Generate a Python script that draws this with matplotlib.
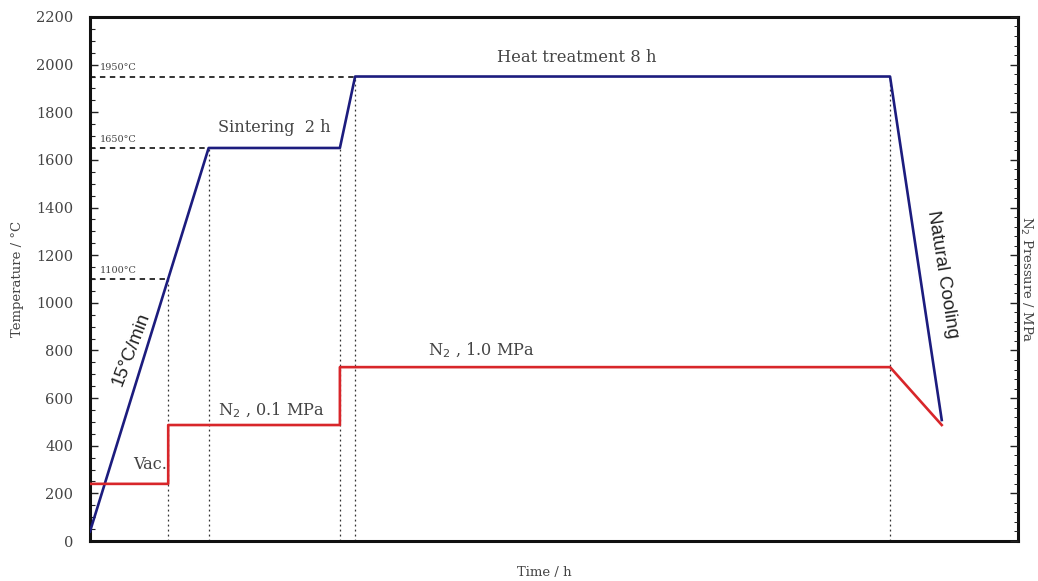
import numpy as np
import matplotlib.pyplot as plt
from matplotlib.ticker import MultipleLocator

# temperature schedule (time in h, temperature in deg C)
temp_time = [0.0, 1.79, 3.77, 4.0, 12.07, 12.85]
temp_value = [40, 1650, 1650, 1950, 1950, 508]

# N2 pressure schedule (right axis, drawn on its own scale)
pres_time = [0.0, 1.18, 1.18, 3.77, 3.77, 12.07, 12.85]
pres_value = [0.24, 0.24, 0.487, 0.487, 0.73, 0.73, 0.487]

# guide lines: level marks and phase boundaries
level_temps = [1950, 1650, 1100]
level_ends = [4.0, 1.79, 1.18]
level_labels = ['1950°C', '1650°C', '1100°C']
phase_times = [1.18, 1.79, 3.77, 4.0, 12.07]
phase_tops = [1100, 1650, 1650, 1950, 1950]

SERIF = ['DejaVu Serif']
SANS = ['Liberation Sans', 'DejaVu Sans']
BLUE = '#1c1c7e'
RED = '#d8262a'
GREY = '#444444'

fig = plt.figure(figsize=(10.38, 5.81), dpi=100)
ax = fig.add_axes([0.0867, 0.0688, 0.894, 0.902])

ax.plot(temp_time, temp_value, color=BLUE, lw=1.9, zorder=3)

for t, end in zip(level_temps, level_ends):
    ax.plot([0, end], [t, t], color='#222222', lw=1.3, ls=(0, (3, 2.5)), zorder=2)
for x, top in zip(phase_times, phase_tops):
    ax.plot([x, x], [0, top], color='#333333', lw=0.9, ls=(0, (1.5, 2.5)), zorder=2)

for t, lab in zip(level_temps, level_labels):
    ax.text(0.15, t + 18, lab, fontsize=7, family=SERIF, color=GREY, va='bottom')

ax.text(1.93, 1735, 'Sintering  2 h', fontsize=11.6, family=SERIF, color=GREY, va='center')
ax.text(7.35, 2030, 'Heat treatment 8 h', fontsize=11.8, family=SERIF, color=GREY,
        ha='center', va='center')
ax.text(5.91, 800, r'N$_2$ , 1.0 MPa', fontsize=11.6, family=SERIF, color=GREY,
        ha='center', va='center')
ax.text(2.73, 548, r'N$_2$ , 0.1 MPa', fontsize=11.6, family=SERIF, color=GREY,
        ha='center', va='center')
ax.text(0.9, 320, 'Vac.', fontsize=11.6, family=SERIF, color=GREY, ha='center', va='center')
ax.text(0.62, 805, '15°C/min', fontsize=13.5, family=SANS, color='#222222',
        rotation=69, ha='center', va='center', rotation_mode='anchor')
ax.text(12.86, 1120, 'Natural Cooling', fontsize=13.5, family=SANS, color='#222222',
        rotation=-81, ha='center', va='center', rotation_mode='anchor')

ax.set_xlim(0, 14.0)
ax.set_ylim(0, 2200)
ax.yaxis.set_major_locator(MultipleLocator(200))
ax.yaxis.set_minor_locator(MultipleLocator(50))
ax.set_xticks([])
ax.tick_params(axis='y', which='both', direction='in', right=False, colors='#222222',
               labelcolor=GREY, labelsize=10.5, pad=12)
ax.tick_params(axis='y', which='major', length=6, width=1)
ax.tick_params(axis='y', which='minor', length=3.5, width=0.8)
for lab in ax.get_yticklabels():
    lab.set_family(SERIF)
for sp in ax.spines.values():
    sp.set_linewidth(2.2)
    sp.set_color('#111111')

ax.set_ylabel('Temperature / °C', family=SERIF, fontsize=9.5, color=GREY)
ax.yaxis.set_label_coords(-0.071, 0.5)
ax.set_xlabel('Time / h', family=SERIF, fontsize=9.5, color=GREY)
ax.xaxis.set_label_coords(0.49, -0.047)

ax2 = ax.twinx()
ax2.plot(pres_time, pres_value, color=RED, lw=1.9, zorder=3)
ax2.set_ylim(0, 2.2)
ax2.yaxis.set_major_locator(MultipleLocator(0.2))
ax2.yaxis.set_minor_locator(MultipleLocator(0.04))
ax2.tick_params(axis='y', which='both', direction='in', labelright=False, colors='#222222')
ax2.tick_params(axis='y', which='major', length=6, width=1)
ax2.tick_params(axis='y', which='minor', length=3, width=0.7)
for sp in ax2.spines.values():
    sp.set_visible(False)
ax2.set_ylabel(r'N$_2$ Pressure / MPa', family=SERIF, fontsize=9.5, color=GREY, rotation=270)
ax2.yaxis.set_label_coords(1.017, 0.5)

fig.savefig('out.png', dpi=100)
